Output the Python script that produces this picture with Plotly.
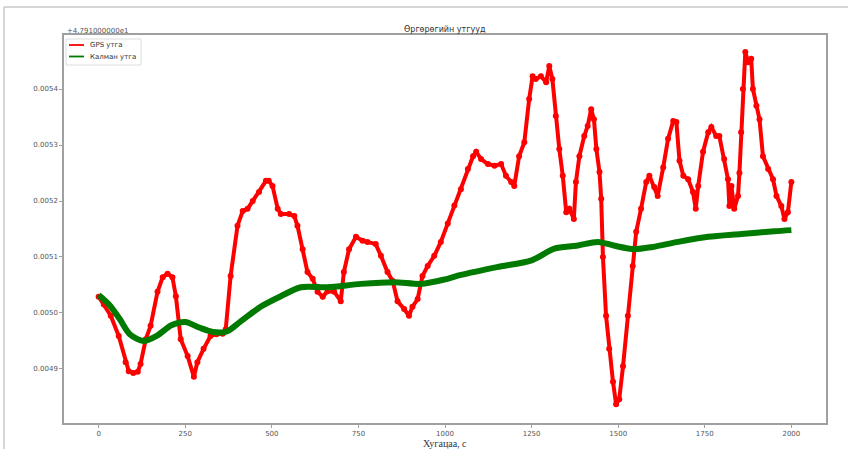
import plotly.graph_objects as go

# Values are latitude minus the axis offset 47.91 (matplotlib offset text "+4.791000000e1")
gps_t = [0, 15, 35, 58, 78, 87, 100, 113, 121, 136, 150, 170, 185, 199, 213, 223, 237, 257, 275, 285,
         303, 323, 340, 358, 367, 381, 401, 416, 430, 445, 463, 483, 491, 502, 517, 526, 550, 565, 574, 589,
         603, 618, 632, 647, 661, 680, 699, 708, 723, 743, 762, 776, 800, 815, 834, 849, 863, 882, 896, 906,
         921, 935, 950, 969, 988, 1008, 1027, 1046, 1066, 1081, 1090, 1104, 1124, 1143, 1162, 1176, 1191, 1200,
         1214, 1229, 1243, 1253, 1262, 1277, 1292, 1301, 1310, 1320, 1330, 1340, 1350, 1359, 1372, 1378, 1388,
         1402, 1412, 1422, 1430, 1437, 1446, 1451, 1456, 1465, 1474, 1485, 1494, 1503, 1514, 1528, 1542, 1552,
         1566, 1581, 1590, 1604, 1614, 1630, 1644, 1659, 1668, 1677, 1688, 1702, 1716, 1724, 1731, 1745, 1760,
         1769, 1783, 1792, 1806, 1817, 1821, 1827, 1835, 1846, 1850, 1855, 1860, 1867, 1875, 1884, 1889, 1899,
         1908, 1918, 1933, 1947, 1957, 1971, 1980, 1990, 2000]
gps_v = [0.005029, 0.005015, 0.004995, 0.004959, 0.004912, 0.004896, 0.004893, 0.004895, 0.004909, 0.004953,
         0.004977, 0.005038, 0.005064, 0.005070, 0.005064, 0.005030, 0.004953, 0.004923, 0.004886, 0.004912,
         0.004936, 0.004959, 0.004962, 0.004963, 0.004971, 0.005066, 0.005156, 0.005182, 0.005186, 0.005200,
         0.005216, 0.005236, 0.005236, 0.005227, 0.005186, 0.005177, 0.005177, 0.005173, 0.005156, 0.005114,
         0.005073, 0.005061, 0.005038, 0.005029, 0.005039, 0.005038, 0.005021, 0.005073, 0.005114, 0.005136,
         0.005129, 0.005127, 0.005123, 0.005102, 0.005073, 0.005057, 0.005021, 0.005007, 0.004995, 0.005011,
         0.005025, 0.005066, 0.005084, 0.005102, 0.005127, 0.005160, 0.005192, 0.005221, 0.005257, 0.005280,
         0.005288, 0.005275, 0.005266, 0.005263, 0.005266, 0.005245, 0.005234, 0.005227, 0.005280, 0.005305,
         0.005382, 0.005423, 0.005418, 0.005423, 0.005412, 0.005441, 0.005418, 0.005352, 0.005293, 0.005245,
         0.005180, 0.005186, 0.005168, 0.005234, 0.005280, 0.005316, 0.005334, 0.005364, 0.005346, 0.005293,
         0.005252, 0.005204, 0.005100, 0.004995, 0.004936, 0.004877, 0.004837, 0.004846, 0.004905, 0.004995,
         0.005084, 0.005145, 0.005186, 0.005234, 0.005245, 0.005225, 0.005209, 0.005260, 0.005311, 0.005343,
         0.005341, 0.005272, 0.005245, 0.005239, 0.005216, 0.005186, 0.005227, 0.005288, 0.005323, 0.005332,
         0.005316, 0.005316, 0.005275, 0.005239, 0.005191, 0.005227, 0.005186, 0.005209, 0.005250, 0.005323,
         0.005400, 0.005466, 0.005448, 0.005454, 0.005400, 0.005370, 0.005346, 0.005280, 0.005257, 0.005239,
         0.005209, 0.005191, 0.005168, 0.005180, 0.005234]

kalman_t = [0, 30, 60, 90, 130, 170, 210, 250, 290, 330, 370, 410, 470, 526, 584, 661, 757, 854, 931, 1000,
            1046, 1150, 1250, 1316, 1380, 1442, 1490, 1546, 1600, 1673, 1760, 1855, 1951, 2000]
kalman_v = [0.005032, 0.005015, 0.004990, 0.004962, 0.004950, 0.004960, 0.004978, 0.004984, 0.004974, 0.004966,
            0.004967, 0.004985, 0.005012, 0.005030, 0.005046, 0.005046, 0.005052, 0.005055, 0.005052, 0.005060,
            0.005068, 0.005082, 0.005094, 0.005115, 0.005120, 0.005127, 0.005120, 0.005114, 0.005118, 0.005127,
            0.005136, 0.005141, 0.005146, 0.005148]

x_ticks = [0, 250, 500, 750, 1000, 1250, 1500, 1750, 2000]
y_ticks = [0.0049, 0.0050, 0.0051, 0.0052, 0.0053, 0.0054]
y_tick_labels = ["0.0049", "0.0050", "0.0051", "0.0052", "0.0053", "0.0054"]

series_names = ["GPS утга", "Калман утга"]
series_colors = ["#ff0000", "#007a00"]
title_text = "Өргөрөгийн утгууд"
xlabel_text = "Хугацаа, с"
offset_text = "+4.791000000e1"

W, H = 848, 449
L, R, T, B = 64, 826, 35, 423


def px(x):
    return (x - L) / (R - L)


def py(y):
    return (B - y) / (B - T)


fig = go.Figure()
fig.add_trace(go.Scatter(
    x=gps_t, y=gps_v, mode="lines+markers", name=series_names[0], showlegend=False,
    line=dict(color=series_colors[0], width=4), marker=dict(color=series_colors[0], size=6)))
fig.add_trace(go.Scatter(
    x=kalman_t, y=kalman_v, mode="lines", name=series_names[1], showlegend=False,
    line=dict(color=series_colors[1], width=6, shape="spline", smoothing=0.8)))

tickfont = dict(family="DejaVu Sans", size=7, color="#555555")

shapes = [
    dict(type="line", xref="paper", yref="paper", x0=px(4), x1=px(848), y0=py(7), y1=py(7),
         line=dict(color="#c8c8c8", width=1.5)),
    dict(type="line", xref="paper", yref="paper", x0=px(4), x1=px(4), y0=py(7), y1=py(449),
         line=dict(color="#c8c8c8", width=1.5)),
    # legend frame
    dict(type="rect", xref="paper", yref="paper", x0=px(66), x1=px(141), y0=py(39), y1=py(65),
         fillcolor="rgba(255,255,255,0.85)", line=dict(color="#dddddd", width=1)),
]
annotations = [
    dict(text=title_text, x=px(445), y=py(29), xref="paper", yref="paper",
         xanchor="center", yanchor="middle", showarrow=False,
         font=dict(family="DejaVu Sans", size=8, color="#333333")),
    dict(text=offset_text, x=px(65), y=py(31), xref="paper", yref="paper",
         xanchor="left", yanchor="middle", showarrow=False,
         font=dict(family="DejaVu Sans", size=7, color="#555555")),
    dict(text=xlabel_text, x=px(445), y=py(443.5), xref="paper", yref="paper",
         xanchor="center", yanchor="middle", showarrow=False,
         font=dict(family="Liberation Serif", size=10, color="#333344")),
]
for i, (name, col) in enumerate(zip(series_names, series_colors)):
    yy = 45 + 11.5 * i
    shapes.append(dict(type="line", xref="paper", yref="paper", x0=px(69), x1=px(84), y0=py(yy), y1=py(yy),
                       line=dict(color=col, width=1.8)))
    annotations.append(dict(text=name, x=px(88), y=py(yy), xref="paper", yref="paper",
                            xanchor="left", yanchor="middle", showarrow=False,
                            font=dict(family="DejaVu Sans", size=7, color="#333333")))

fig.update_layout(
    width=W, height=H,
    margin=dict(l=L, r=W - R, t=T, b=H - B, pad=0),
    paper_bgcolor="white", plot_bgcolor="white",
    showlegend=False,
    xaxis=dict(range=[-100, 2100], tickvals=x_ticks, ticktext=[str(v) for v in x_ticks],
               showgrid=False, zeroline=False, showline=True, mirror=True,
               linecolor="#a0a0a0", linewidth=1.5, ticks="outside", ticklen=3,
               tickcolor="#a0a0a0", tickfont=tickfont),
    yaxis=dict(range=[0.0048035, 0.0054965], tickvals=y_ticks, ticktext=y_tick_labels,
               showgrid=False, zeroline=False, showline=True, mirror=True,
               linecolor="#a0a0a0", linewidth=1.5, ticks="outside", ticklen=3,
               tickcolor="#a0a0a0", tickfont=tickfont),
    annotations=annotations,
    shapes=shapes,
)

fig.write_html("out.html", config={"displayModeBar": False},
               post_script="document.body.style.margin='0';document.body.style.overflow='hidden';")
